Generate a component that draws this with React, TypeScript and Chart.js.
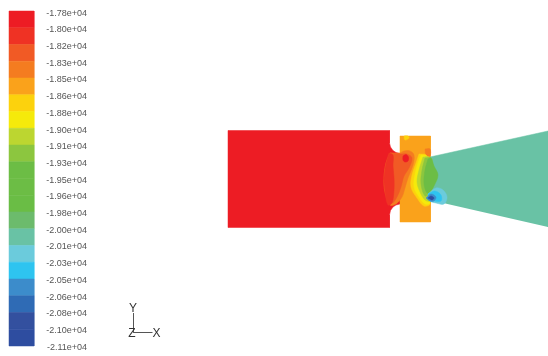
import React, { useEffect, useRef } from "react";
import { Chart, registerables } from "chart.js";

Chart.register(...registerables);

type P = [number, number];

const tickLabels = ["-1.78e+04","-1.80e+04","-1.82e+04","-1.83e+04","-1.85e+04","-1.86e+04","-1.88e+04","-1.90e+04","-1.91e+04","-1.93e+04","-1.95e+04","-1.96e+04","-1.98e+04","-2.00e+04","-2.01e+04","-2.03e+04","-2.05e+04","-2.06e+04","-2.08e+04","-2.10e+04","-2.11e+04"];
const bandColors = ["#ed1c24","#ef3224","#f15a25","#f47c20","#faa21b","#fcd20d","#f5ea0b","#bcd630","#8cc63f","#6cbd45","#6cbd45","#6abd45","#6cbb6c","#69c2a5","#6bcbdc","#2ec4f0","#3c8ccb","#2f6bb5","#33509f","#2e4da0"];

const red: P[] = [[228,130.5],[389.5,130.5],[389.5,143],[390.5,147],[393,150.5],[396,152.5],[400,153.5],[400,204],[396,205],[393,207],[390.5,210.5],[389.5,215],[389.5,227.5],[228,227.5]];
const cone: P[] = [[430,157],[548,131],[548,227],[430,200]];
const block: P[] = [[400,136],[430.5,136],[430.5,222],[400,222]];
const orangeField: P[] = [[390,153],[400,153],[404,151],[410,151],[414,155],[413,165],[408,178],[405,188],[402,197],[396,204],[390,205],[385,192],[384,178],[386,163]];
const redOrangeField: P[] = [[390,153],[400,154],[407,154],[412,158],[409,168],[404,176],[401,187],[397,197],[392,203],[387,195],[385,178],[387,163]];
const lightRedBand: P[] = [[389,153],[393,155],[393,166],[394,178],[394,190],[392,203],[388,205],[385,192],[384,178],[386,163]];
const hotSpot: P[] = [[403,156],[406,154.5],[408.5,157],[408,161],[405,162],[403,160]];
const cornerSpot: P[] = [[425,149],[430,149],[430,156],[426,155]];
const topSpot: P[] = [[404,136],[408,136],[409,138],[405,140]];
const yellowLeft: P[] = [[419,154],[426,155],[425,162],[423,172],[425,190],[430,204],[424,206],[417,198],[411,187],[412,175],[416,163]];
const yellow: P[] = [[421,155],[427,156],[426,162],[424,172],[426,190],[430,203],[425,204],[419,197],[414,187],[415,174],[418,163]];
const lightGreen: P[] = [[423,157],[429,157],[427,164],[428,178],[427,190],[430,201],[425,200],[420,192],[417,182],[419,170]];
const midGreen: P[] = [[425,158],[431,158],[433,166],[436,174],[433,186],[430,193],[425,196],[421,184],[422,170]];
const green: P[] = [[428,159],[431,158],[434,166],[438,175],[434,186],[430,192],[427,193],[424,184],[425,170]];
const cyanHalo: P[] = [[428,194],[436,188],[443,190],[447,197],[444,204],[436,203],[430,201]];
const cyan: P[] = [[428,194],[435,191],[441,195],[441,201],[433,201],[430,201]];
const blue: P[] = [[426,198],[431,194],[436,197],[434,201],[430,201]];
const deep: P[] = [[428,198],[431,196],[434,198],[432,200],[430,199]];

const triadV: P[] = [[133.5,313],[133.5,332.5]];
const triadH: P[] = [[133.5,332.5],[152.5,332.5]];

const flatShapes: { pts: P[]; color: string }[] = [
  { pts: red, color: "#ed1c24" },
  { pts: block, color: "#faa21b" },
  { pts: cone, color: "#69c2a5" },
];
const contourShapes: { pts: P[]; color: string }[] = [
  { pts: orangeField, color: "#f47c20" },
  { pts: redOrangeField, color: "#f15a25" },
  { pts: lightRedBand, color: "#ef3224" },
  { pts: hotSpot, color: "#ed1c24" },
  { pts: cornerSpot, color: "#f47c20" },
  { pts: topSpot, color: "#fcd20d" },
  { pts: yellowLeft, color: "#fcd20d" },
  { pts: yellow, color: "#f5ea0b" },
  { pts: lightGreen, color: "#bcd630" },
  { pts: midGreen, color: "#8cc63f" },
  { pts: green, color: "#6cbd45" },
  { pts: cyanHalo, color: "#6bcbdc" },
  { pts: cyan, color: "#2ec4f0" },
  { pts: blue, color: "#3c8ccb" },
  { pts: deep, color: "#2e4da0" },
];

const axisNames: { t: string; x: number; y: number }[] = [
  { t: "Y", x: 133, y: 309 },
  { t: "Z", x: 132, y: 334 },
  { t: "X", x: 156.5, y: 334 },
];

const barTop = 11;
const barBottom = 346;
const barLeft = 9;
const barRight = 34;
const firstTick = 13.2;
const tickStep = 16.7;

const polygon = (pts: P[], color: string, tension = 0) => ({
  type: "line" as const,
  data: [...pts, pts[0]].map(([x, y]) => ({ x, y })),
  borderWidth: 0.5,
  borderColor: color,
  backgroundColor: color,
  pointRadius: 0,
  fill: "shape",
  tension,
  parsing: false as const,
});

const textPlugin = {
  id: "triadText",
  afterDatasetsDraw(c: any) {
    const { ctx, scales } = c;
    ctx.save();
    ctx.font = "12px 'Liberation Sans'";
    ctx.fillStyle = "#333";
    ctx.textAlign = "center";
    ctx.textBaseline = "middle";
    axisNames.forEach((a) => ctx.fillText(a.t, scales.x.getPixelForValue(a.x), scales.y.getPixelForValue(a.y)));
    ctx.restore();
  },
};

export default function App() {
  const ref = useRef<HTMLCanvasElement>(null);
  useEffect(() => {
    const h = (barBottom - barTop) / bandColors.length;
    const bands = bandColors.map((color, i) =>
      polygon([[barLeft, barTop + i * h],[barRight, barTop + i * h],[barRight, barTop + (i + 1) * h],[barLeft, barTop + (i + 1) * h]], color)
    );
    const flats = flatShapes.map((s) => polygon(s.pts, s.color));
    const contours = contourShapes.map((s) => polygon(s.pts, s.color, 0.35));
    const lines = [triadV, triadH].map((pts) => ({
      type: "line" as const,
      data: pts.map(([x, y]) => ({ x, y })),
      borderWidth: 1,
      borderColor: "#555",
      pointRadius: 0,
      fill: false,
      parsing: false as const,
    }));
    // later datasets paint first in Chart.js, so reverse to keep the painter's order
    const all = [...bands, ...flats, ...contours, ...lines].reverse();
    const chart = new Chart(ref.current!, {
      type: "line",
      data: { datasets: all as any },
      plugins: [textPlugin],
      options: {
        animation: false,
        responsive: false,
        layout: { padding: 0 },
        plugins: { legend: { display: false }, tooltip: { enabled: false } },
        scales: {
          x: { type: "linear", min: 0, max: 548, display: false },
          y: { type: "linear", min: 0, max: 356, reverse: true, display: false },
          labels: {
            axis: "y",
            type: "linear",
            min: 0,
            max: 356,
            reverse: true,
            position: { x: 87 },
            grid: { display: false },
            border: { display: false },
            afterBuildTicks(s: any) {
              s.ticks = tickLabels.map((_, i) => ({ value: firstTick + i * tickStep }));
            },
            afterFit(s: any) {
              s.paddingTop = 0;
              s.paddingBottom = 0;
              s.paddingLeft = 0;
              s.paddingRight = 0;
            },
            ticks: {
              autoSkip: false,
              padding: 0,
              color: "#555",
              font: { family: "Liberation Sans", size: 9 },
              callback: (_v: any, i: number) => tickLabels[i],
            },
          } as any,
        },
      },
    });
    return () => chart.destroy();
  }, []);
  return (
    <canvas
      ref={ref}
      width={548}
      height={356}
      style={{ position: "fixed", left: 0, top: 0, width: 548, height: 356, filter: "blur(0.5px)" }}
    />
  );
}
